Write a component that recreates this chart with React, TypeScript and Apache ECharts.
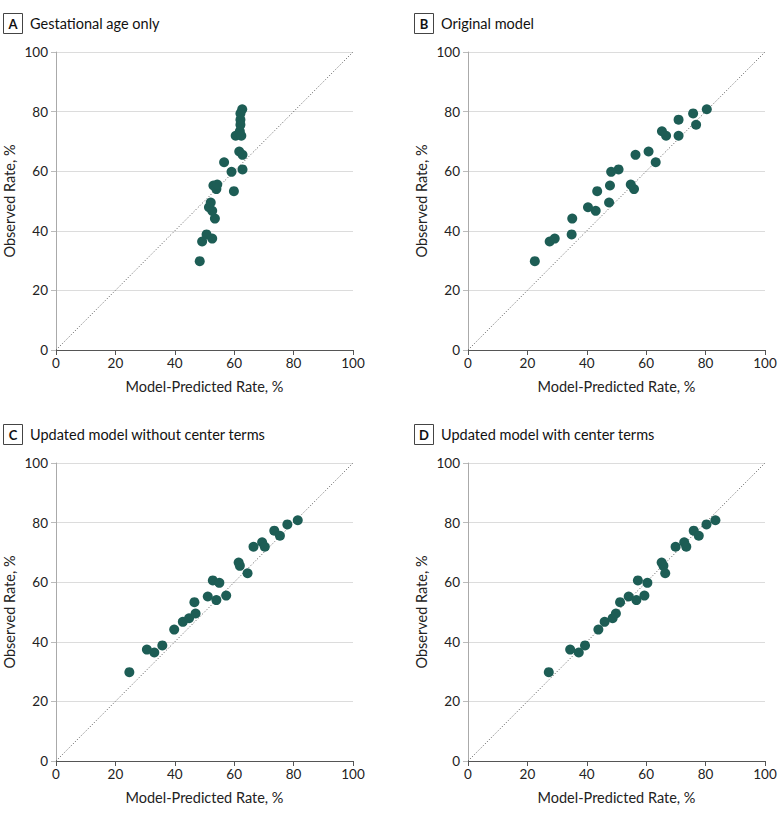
import React, { useEffect, useRef } from "react";
import * as echarts from "echarts";

const observed = [29.8, 36.4, 37.4, 38.8, 44.1, 46.7, 47.9, 49.5, 53.3, 55.2, 54.0, 55.5, 60.6, 59.8, 66.6, 65.5, 63.0, 71.9, 73.4, 71.9, 77.3, 75.6, 79.4, 80.8];

const predA = [48.4, 49.2, 52.6, 50.7, 53.5, 52.6, 51.5, 52.1, 59.9, 53.0, 54.0, 54.3, 62.8, 59.1, 61.7, 62.8, 56.6, 60.5, 61.9, 62.4, 62.1, 62.1, 62.1, 62.7];
const predB = [22.5, 27.5, 29.2, 34.9, 35.1, 43.0, 40.4, 47.5, 43.5, 47.8, 55.9, 54.8, 50.7, 48.2, 60.8, 56.4, 63.2, 66.7, 65.3, 70.9, 70.9, 76.8, 75.8, 80.4];
const predC = [24.7, 33.1, 30.6, 35.8, 39.8, 42.7, 44.8, 47.0, 46.6, 51.1, 54.0, 57.3, 52.8, 55.0, 61.5, 61.9, 64.5, 66.5, 69.4, 70.3, 73.5, 75.4, 77.9, 81.4];
const predD = [27.2, 37.3, 34.4, 39.4, 43.9, 46.0, 48.7, 49.8, 51.2, 54.1, 56.7, 59.4, 57.2, 60.4, 65.2, 65.8, 66.4, 69.9, 72.8, 73.5, 76.0, 77.7, 80.3, 83.3];

const panelLetters = ["A", "B", "C", "D"];
const panelTitles = [
  "Gestational age only",
  "Original model",
  "Updated model without center terms",
  "Updated model with center terms",
];
const axisTicks = [0, 20, 40, 60, 80, 100];
const xAxisTitle = "Model-Predicted Rate, %";
const yAxisTitle = "Observed Rate, %";

const FONT = "Lato, 'Noto Sans', sans-serif";
const DOT = "#1d5d55";

export default function App() {
  const ref = useRef<HTMLDivElement>(null);
  useEffect(() => {
    if (!ref.current) return;
    const chart = echarts.init(ref.current, null, { renderer: "svg" });
    const preds = [predA, predB, predC, predD];
    const lefts = [56, 468, 56, 468];
    const tops = [52, 52, 463, 463];
    const grids = lefts.map((l, i) => ({ left: l, top: tops[i], width: 297, height: 298 }));
    const xAxes = grids.map((_, i) => ({
      type: "value",
      gridIndex: i,
      min: axisTicks[0],
      max: axisTicks[axisTicks.length - 1],
      interval: 20,
      name: xAxisTitle,
      nameLocation: "middle",
      nameGap: 29,
      nameTextStyle: { fontFamily: FONT, fontSize: 14.5, color: "#222" },
      axisLine: { show: true, lineStyle: { color: "#555", width: 1 } },
      axisTick: { show: true, length: 5, lineStyle: { color: "#555" } },
      axisLabel: { fontFamily: FONT, fontSize: 13.5, color: "#222", margin: 6 },
      splitLine: { show: false },
    }));
    const yAxes = grids.map((_, i) => ({
      type: "value",
      gridIndex: i,
      min: axisTicks[0],
      max: axisTicks[axisTicks.length - 1],
      interval: 20,
      name: yAxisTitle,
      nameLocation: "middle",
      nameGap: 39,
      nameTextStyle: { fontFamily: FONT, fontSize: 14.5, color: "#222" },
      axisLine: { show: true, lineStyle: { color: "#aaa", width: 1 } },
      axisTick: { show: true, length: 5, lineStyle: { color: "#bbb" } },
      axisLabel: { fontFamily: FONT, fontSize: 13.5, color: "#222", margin: 8 },
      splitLine: { show: true, lineStyle: { color: "#dcdcdc", width: 1 } },
    }));
    const series: any[] = [];
    preds.forEach((p, i) => {
      series.push({
        type: "line",
        xAxisIndex: i,
        yAxisIndex: i,
        data: [[0, 0], [100, 100]],
        symbol: "none",
        lineStyle: { type: [1, 2], color: "#555", width: 1 },
        silent: true,
        z: 1,
      });
      series.push({
        type: "scatter",
        xAxisIndex: i,
        yAxisIndex: i,
        data: p.map((v, j) => [v, observed[j]]),
        symbolSize: 10,
        itemStyle: { color: DOT, opacity: 1 },
        z: 3,
      });
    });
    const boxX = [3, 414, 3, 414];
    const boxY = [13, 13, 424, 424];
    const graphic: any[] = [];
    panelLetters.forEach((letter, i) => {
      graphic.push({
        type: "rect",
        shape: { x: boxX[i] + 0.5, y: boxY[i] + 0.5, width: 19, height: 20 },
        style: { fill: "#fff", stroke: "#444", lineWidth: 1 },
      });
      graphic.push({
        type: "text",
        x: boxX[i] + 10,
        y: boxY[i] + 11,
        style: {
          text: letter,
          fontFamily: FONT,
          fontWeight: "bold",
          fontSize: 13,
          fill: "#111",
          align: "center",
          verticalAlign: "middle",
        },
      });
      graphic.push({
        type: "text",
        x: boxX[i] + 27,
        y: boxY[i] + 10,
        style: {
          text: panelTitles[i],
          fontFamily: FONT,
          fontSize: 14.5,
          fill: "#111",
          align: "left",
          verticalAlign: "middle",
        },
      });
    });
    chart.setOption({
      animation: false,
      backgroundColor: "#fff",
      grid: grids,
      xAxis: xAxes,
      yAxis: yAxes,
      series,
      graphic,
    });
    return () => chart.dispose();
  }, []);
  return (
    <div
      ref={ref}
      style={{ position: "fixed", left: 0, top: 0, width: 780, height: 816 }}
    />
  );
}
